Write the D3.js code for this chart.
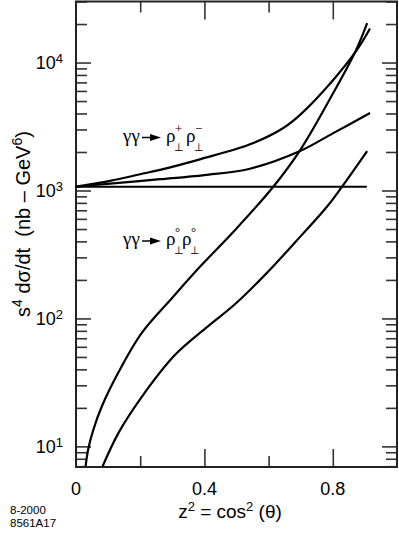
<!DOCTYPE html>
<html>
<head>
<meta charset="utf-8">
<script src="https://cdn.jsdelivr.net/npm/d3@7"></script>
<style>
	body { margin: 0; background: #fff; }
	text { fill: #000; }
</style>
</head>
<body>
<svg id="chart" width="399" height="538"></svg>
<script>
	// Values: [z^2, s^4 dsigma/dt]
	var chargedUpper = [[0, 1070], [0.106, 1190], [0.2, 1340], [0.262, 1450], [0.386, 1752], [0.542, 2295],
		[0.646, 3080], [0.698, 3900], [0.80, 7251], [0.874, 12430], [0.916, 18460]];
	var chargedLower = [[0, 1070], [0.106, 1132], [0.262, 1225], [0.4, 1320], [0.542, 1480],
		[0.698, 2034], [0.80, 2796], [0.916, 4027]];
	var flatLine = [[0, 1070], [0.906, 1070]];
	var neutralUpper = [[0.03, 7], [0.038, 9.5], [0.054, 13.5], [0.08, 20.4], [0.131, 37.4], [0.205, 77],
		[0.3, 145], [0.386, 253], [0.495, 489], [0.614, 1065], [0.698, 2060], [0.80, 5700],
		[0.872, 12430], [0.907, 20300]];
	var neutralLower = [[0.083, 7], [0.132, 12.7], [0.205, 24.4], [0.308, 51.7], [0.408, 85.5], [0.495, 129],
		[0.594, 226], [0.698, 434], [0.781, 743], [0.828, 1065], [0.907, 2034]];

	var xTicks = [0.2, 0.4, 0.6, 0.8];
	var xLabels = [0, 0.4, 0.8];
	var yMajor = [10, 100, 1000, 10000];
	var yExponents = ['1', '2', '3', '4'];

	var margin = {top: 1.5, right: 2, bottom: 71, left: 76};
	var width = 399, height = 538;

	var svg = d3.select('#chart');

	var x = d3.scaleLinear()
		.domain([0, 1])
		.range([margin.left, width - margin.right]);

	var y = d3.scaleLog()
		.domain([6.9, 30000])
		.range([height - margin.bottom, margin.top]);

	// minor ticks 2..9 in every decade inside the domain
	var yTicks = [];
	[1, 10, 100, 1000, 10000].forEach(function(d) {
		for (var k = 1; k < 10; k++) {
			var v = d * k;
			if (v >= y.domain()[0] && v <= y.domain()[1]) yTicks.push(v);
		}
	});
	function isMajorY(v) { return yMajor.indexOf(v) >= 0; }
	function isMajorX(v) { return Math.abs(v - 0.4) < 1e-6 || Math.abs(v - 0.8) < 1e-6; }

	// Axes (ticks only, pointing inward)
	var tickColor = '#333';

	function styleAxis(g, isMajor, attr, major, minor) {
		g.select('.domain').remove();
		g.selectAll('text').remove();
		g.selectAll('line')
			.attr('stroke', tickColor)
			.attr('stroke-width', 1.6)
			.attr(attr, function(d) { return isMajor(d) ? major : minor; });
	}

	svg.append('g')
		.attr('transform', 'translate(' + margin.left + ',0)')
		.call(d3.axisRight(y).tickValues(yTicks))
		.call(styleAxis, isMajorY, 'x2', 15, 11);

	svg.append('g')
		.attr('transform', 'translate(' + (width - margin.right) + ',0)')
		.call(d3.axisLeft(y).tickValues(yTicks))
		.call(styleAxis, isMajorY, 'x2', -15, -11);

	svg.append('g')
		.attr('transform', 'translate(0,' + (height - margin.bottom) + ')')
		.call(d3.axisTop(x).tickValues(xTicks))
		.call(styleAxis, isMajorX, 'y2', -18, -11);

	svg.append('g')
		.attr('transform', 'translate(0,' + margin.top + ')')
		.call(d3.axisBottom(x).tickValues(xTicks))
		.call(styleAxis, isMajorX, 'y2', 18, 11);

	// Frame
	svg.append('rect')
		.attr('x', margin.left)
		.attr('y', margin.top)
		.attr('width', width - margin.right - margin.left)
		.attr('height', height - margin.bottom - margin.top)
		.attr('fill', 'none')
		.attr('stroke', '#222')
		.attr('stroke-width', 2);

	// Curves
	svg.append('clipPath')
		.attr('id', 'plot-clip')
		.append('rect')
		.attr('x', margin.left)
		.attr('y', margin.top)
		.attr('width', width - margin.right - margin.left)
		.attr('height', height - margin.bottom - margin.top);

	var line = d3.line()
		.curve(d3.curveCatmullRom.alpha(0.5))
		.x(function(d) { return x(d[0]); })
		.y(function(d) { return y(d[1]); });

	svg.append('g')
		.attr('clip-path', 'url(#plot-clip)')
		.selectAll('path')
		.data([chargedUpper, chargedLower, flatLine, neutralUpper, neutralLower])
		.enter().append('path')
			.attr('d', line)
			.attr('fill', 'none')
			.attr('stroke', '#000')
			.attr('stroke-width', 2.2);

	// Tick labels
	var sans = 'Liberation Sans, Arial, Helvetica, sans-serif';

	svg.selectAll('.xlab')
		.data(xLabels)
		.enter().append('text')
			.attr('class', 'xlab')
			.attr('x', function(d) { return x(d); })
			.attr('y', 495)
			.attr('text-anchor', 'middle')
			.attr('font-family', sans)
			.attr('font-size', 18)
			.text(function(d) { return d === 0 ? '0' : d3.format('.1f')(d); });

	var ylab = svg.selectAll('.ylab')
		.data(yMajor)
		.enter().append('text')
			.attr('class', 'ylab')
			.attr('x', 63)
			.attr('y', function(d) { return y(d) + 6.5; })
			.attr('text-anchor', 'end')
			.attr('font-family', sans)
			.attr('font-size', 18);
	ylab.append('tspan').text('10');
	ylab.append('tspan')
		.attr('font-size', 13)
		.attr('dy', -6)
		.text(function(d, i) { return yExponents[i]; });

	// Axis titles
	var xt = svg.append('text')
		.attr('x', 230)
		.attr('y', 518)
		.attr('text-anchor', 'middle')
		.attr('font-family', sans)
		.attr('font-size', 19);
	xt.append('tspan').text('z');
	xt.append('tspan').attr('font-size', 13).attr('dy', -7).text('2');
	xt.append('tspan').attr('dy', 7).text(' = cos');
	xt.append('tspan').attr('font-size', 13).attr('dy', -7).text('2');
	xt.append('tspan').attr('dy', 7).text(' (θ)');

	var yt = svg.append('text')
		.attr('transform', 'translate(30,224) rotate(-90)')
		.attr('text-anchor', 'middle')
		.attr('font-family', sans)
		.attr('font-size', 20)
		.attr('xml:space', 'preserve');
	yt.append('tspan').text('s');
	yt.append('tspan').attr('font-size', 14).attr('dy', -8).text('4');
	yt.append('tspan').attr('dy', 8).text(' dσ/dt  (nb – GeV');
	yt.append('tspan').attr('font-size', 14).attr('dy', -8).text('6');
	yt.append('tspan').attr('dy', 8).text(')');

	// Figure id
	svg.append('text').attr('x', 10).attr('y', 514)
		.attr('font-family', sans).attr('font-size', 11.5).text('8-2000');
	svg.append('text').attr('x', 10).attr('y', 527)
		.attr('font-family', sans).attr('font-size', 11.5).text('8561A17');

	// Process labels
	var serif = 'Liberation Serif, Times New Roman, serif';

	function processLabel(base, sup1, sup2, rho2x) {
		var g = svg.append('g');
		g.append('text').attr('x', 123).attr('y', base)
			.attr('font-family', serif).attr('font-size', 19).text('γγ');
		g.append('path')
			.attr('d', 'M142,' + (base - 4) + 'H152')
			.attr('stroke', '#000').attr('stroke-width', 1.5);
		g.append('path')
			.attr('d', 'M150,' + (base - 7.5) + 'L161,' + (base - 4) + 'L150,' + (base - 0.5) + 'Z')
			.attr('fill', '#000');
		[166, rho2x].forEach(function(px, i) {
			g.append('text').attr('x', px).attr('y', base)
				.attr('font-family', serif).attr('font-size', 19).text('ρ');
			g.append('text').attr('x', px + 8).attr('y', base + 9)
				.attr('font-family', 'DejaVu Sans, sans-serif').attr('font-size', 11).text('⊥');
			g.append('text').attr('x', px + 9).attr('y', base - 9)
				.attr('font-family', serif).attr('font-size', 13).text(i === 0 ? sup1 : sup2);
		});
	}
	processLabel(141.5, '+', '−', 186);
	processLabel(245, '°', '°', 182);
</script>
</body>
</html>
